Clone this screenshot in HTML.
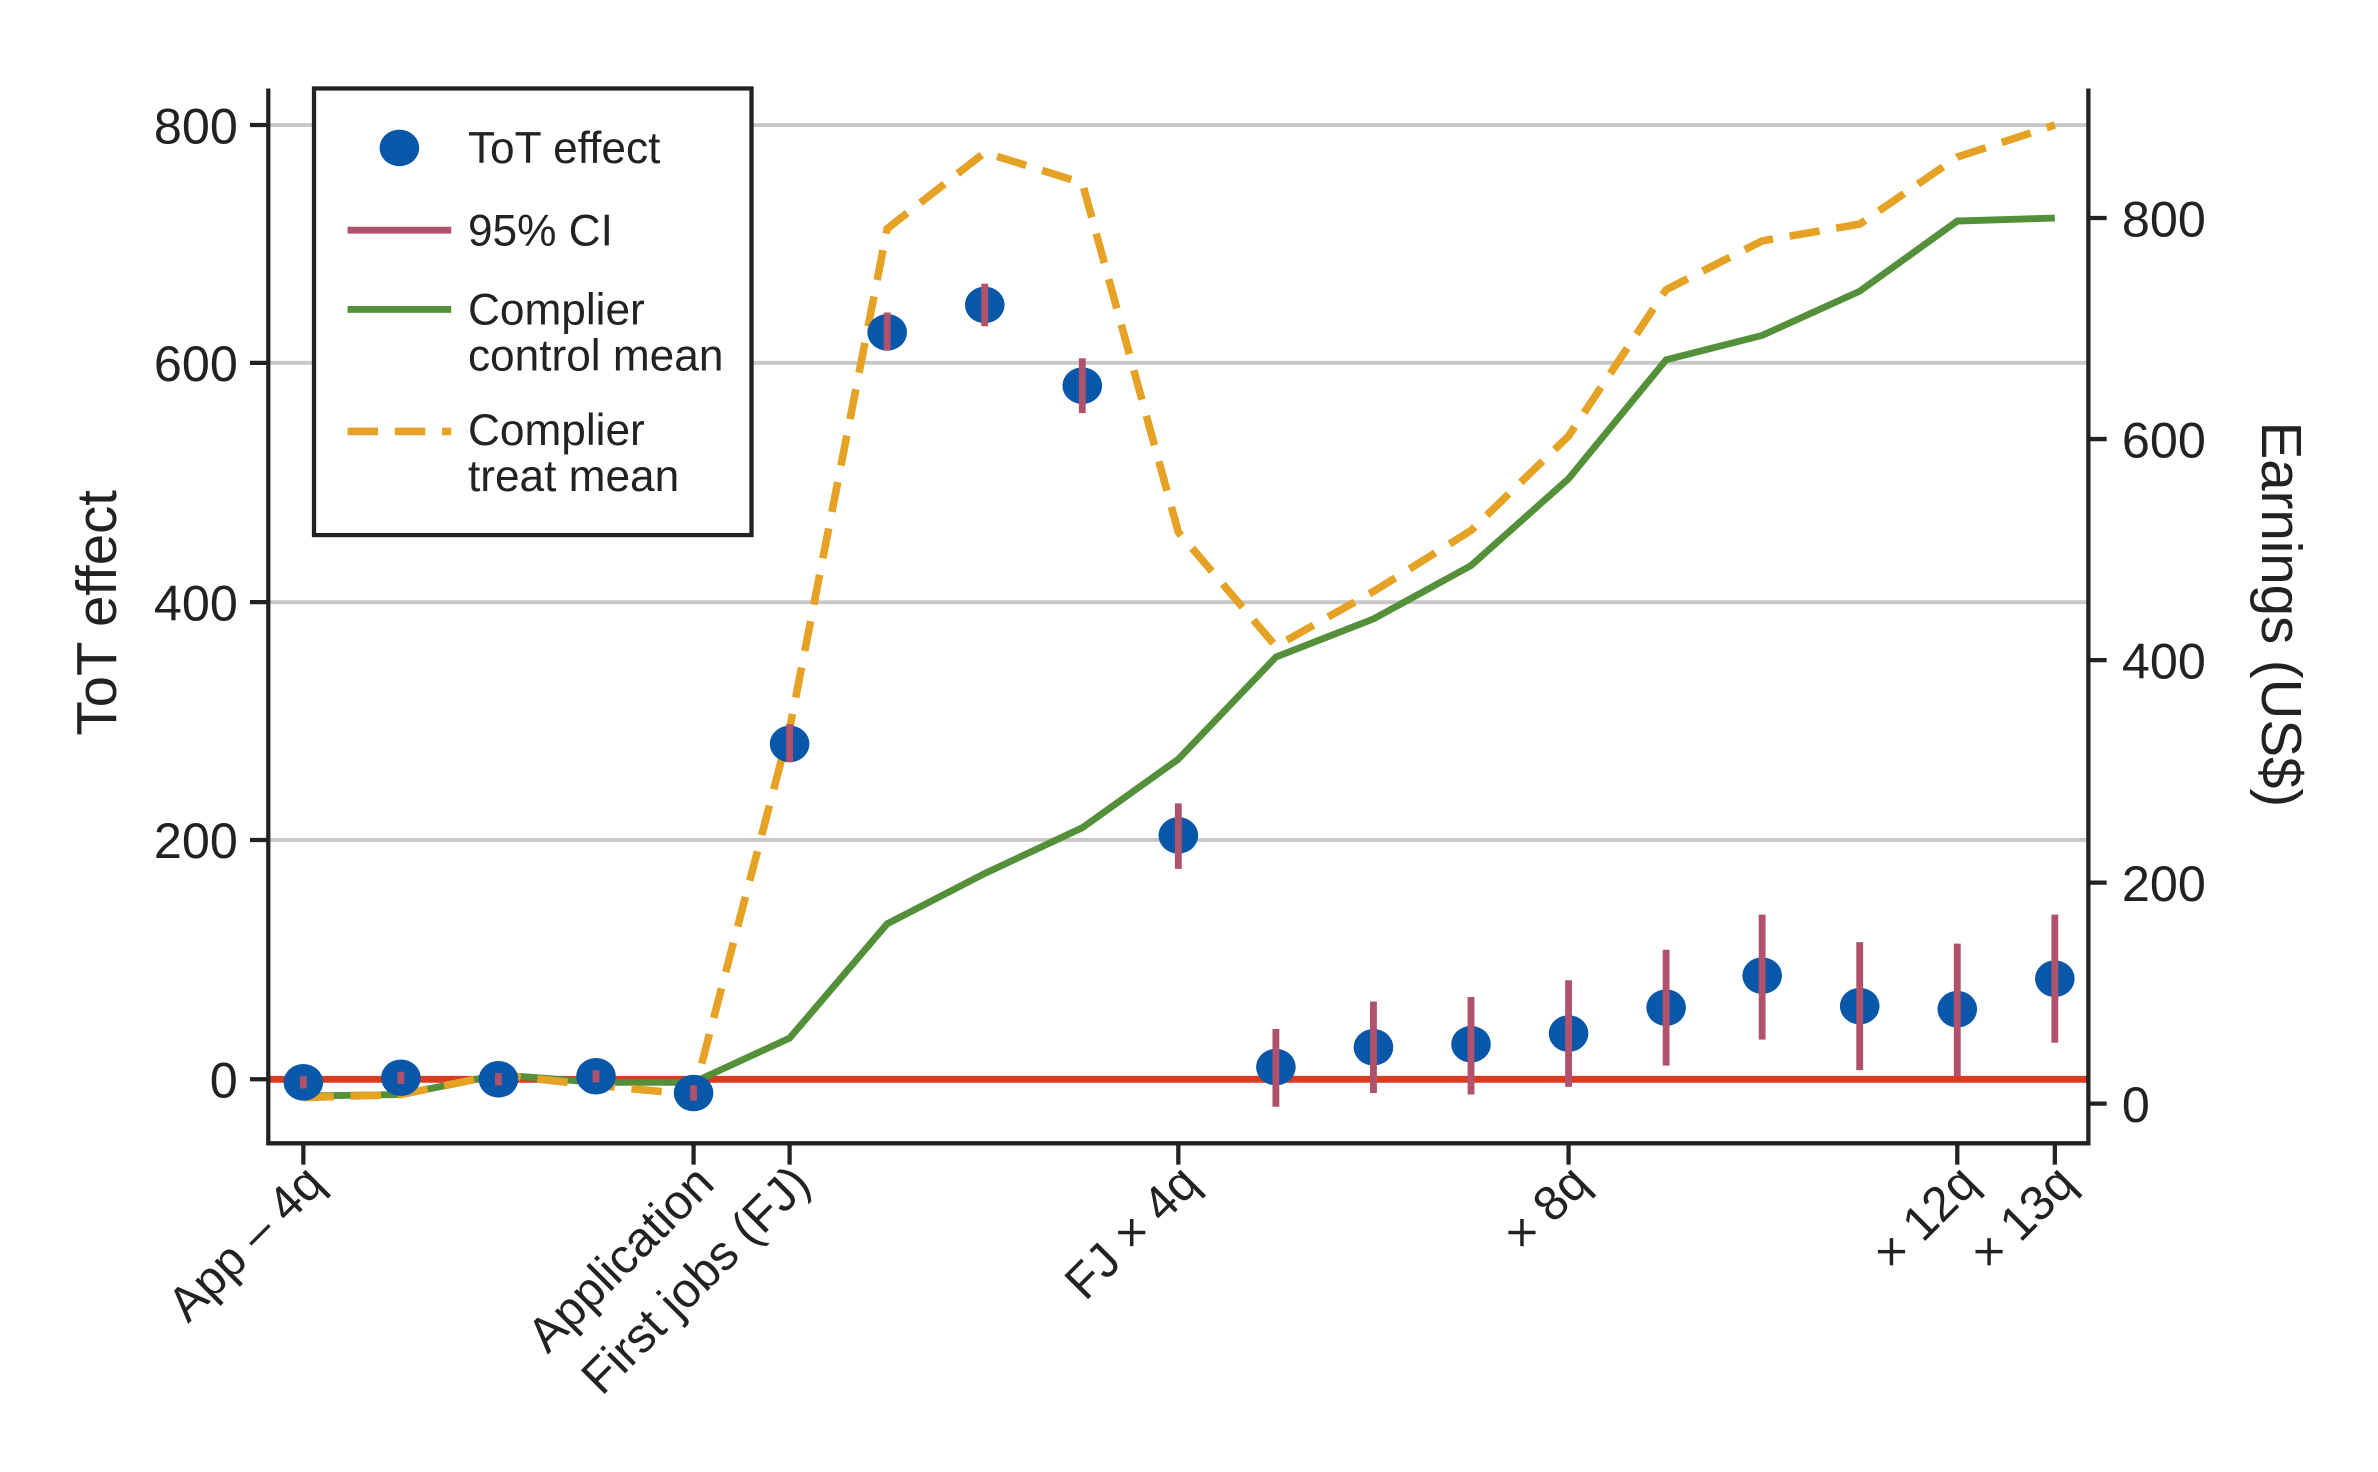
<!DOCTYPE html>
<html><head><meta charset="utf-8"><style>html,body{margin:0;padding:0;background:#fff}svg{display:block}</style></head>
<body>
<svg width="2378" height="1472" viewBox="0 0 1560 965.6" xmlns="http://www.w3.org/2000/svg" font-family="Liberation Sans, sans-serif">
<rect width="1560" height="966" fill="#fff"/>
<g stroke="#c8c8c8" stroke-width="2.5">
<line x1="176" x2="1370" y1="82" y2="82"/><line x1="176" x2="1370" y1="238" y2="238"/>
<line x1="176" x2="1370" y1="395" y2="395"/><line x1="176" x2="1370" y1="551" y2="551"/>
</g>
<line x1="176" x2="1370" y1="708" y2="708" stroke="#d93a22" stroke-width="4.5"/>
<polyline fill="none" stroke="#54903a" stroke-width="4.5" points="199,719 263,718 327,705 391,710 455,710 518,681 582,606 646,573 710,543 773,498 837,431 901,406 965,371 1029,314 1093,236 1156,220 1220,191 1284,145 1348,143"/>
<polyline fill="none" stroke="#e5a224" stroke-width="5" stroke-dasharray="20,11" points="199,720 263,718 327,705 391,712 455,718 518,478 582,150 646,100 710,120 773,349 837,424 901,388 965,348 1029,286 1093,190 1156,158 1220,147 1284,103 1348,82"/>
<g fill="#0857a8">
<ellipse cx="199" cy="710" rx="13" ry="12"/><ellipse cx="263" cy="707" rx="13" ry="12"/><ellipse cx="327" cy="708" rx="13" ry="12"/><ellipse cx="391" cy="706" rx="13" ry="12"/><ellipse cx="455" cy="717" rx="13" ry="12"/><ellipse cx="518" cy="488" rx="13" ry="12"/><ellipse cx="582" cy="218" rx="13" ry="12"/><ellipse cx="646" cy="200" rx="13" ry="12"/><ellipse cx="710" cy="253" rx="13" ry="12"/><ellipse cx="773" cy="548" rx="13" ry="12"/><ellipse cx="837" cy="700" rx="13" ry="12"/><ellipse cx="901" cy="687" rx="13" ry="12"/><ellipse cx="965" cy="685" rx="13" ry="12"/><ellipse cx="1029" cy="678" rx="13" ry="12"/><ellipse cx="1093" cy="661" rx="13" ry="12"/><ellipse cx="1156" cy="640" rx="13" ry="12"/><ellipse cx="1220" cy="660" rx="13" ry="12"/><ellipse cx="1284" cy="662" rx="13" ry="12"/><ellipse cx="1348" cy="642" rx="13" ry="12"/>
</g>
<g stroke="#b0526c" stroke-width="4.5">
<line x1="199" x2="199" y1="706" y2="714"/><line x1="263" x2="263" y1="703" y2="711"/><line x1="327" x2="327" y1="704" y2="712"/><line x1="391" x2="391" y1="702" y2="710"/><line x1="455" x2="455" y1="712" y2="722"/><line x1="518" x2="518" y1="475" y2="500"/><line x1="582" x2="582" y1="205" y2="230"/><line x1="646" x2="646" y1="186" y2="214"/><line x1="710" x2="710" y1="235" y2="271"/><line x1="773" x2="773" y1="527" y2="570"/><line x1="837" x2="837" y1="675" y2="726"/><line x1="901" x2="901" y1="657" y2="717"/><line x1="965" x2="965" y1="654" y2="718"/><line x1="1029" x2="1029" y1="643" y2="713"/><line x1="1093" x2="1093" y1="623" y2="699"/><line x1="1156" x2="1156" y1="600" y2="682"/><line x1="1220" x2="1220" y1="618" y2="702"/><line x1="1284" x2="1284" y1="619" y2="706"/><line x1="1348" x2="1348" y1="600" y2="684"/>
</g>
<g stroke="#222" stroke-width="2.8" fill="none">
<polyline points="176,58 176,750 1370,750 1370,58"/>
<line x1="164" x2="176" y1="82" y2="82"/><line x1="164" x2="176" y1="238" y2="238"/><line x1="164" x2="176" y1="395" y2="395"/><line x1="164" x2="176" y1="551" y2="551"/><line x1="164" x2="176" y1="708" y2="708"/>
<line x1="1370" x2="1382" y1="143" y2="143"/><line x1="1370" x2="1382" y1="288" y2="288"/><line x1="1370" x2="1382" y1="433" y2="433"/><line x1="1370" x2="1382" y1="579" y2="579"/><line x1="1370" x2="1382" y1="724" y2="724"/>
<line x1="199" x2="199" y1="750" y2="764"/><line x1="455" x2="455" y1="750" y2="764"/><line x1="518" x2="518" y1="750" y2="764"/><line x1="773" x2="773" y1="750" y2="764"/><line x1="1029" x2="1029" y1="750" y2="764"/><line x1="1284" x2="1284" y1="750" y2="764"/><line x1="1348" x2="1348" y1="750" y2="764"/>
</g>
<g font-size="33" fill="#222" text-anchor="end">
<text x="156" y="94">800</text><text x="156" y="250">600</text><text x="156" y="407">400</text><text x="156" y="563">200</text><text x="156" y="720">0</text>
</g>
<g font-size="33" fill="#222">
<text x="1392" y="155">800</text><text x="1392" y="300">600</text><text x="1392" y="445">400</text><text x="1392" y="591">200</text><text x="1392" y="736">0</text>
</g>
<text transform="translate(76,402) rotate(-90)" font-size="37" text-anchor="middle" fill="#222">ToT effect</text>
<text transform="translate(1484,403) rotate(90)" font-size="37" text-anchor="middle" fill="#222">Earnings (US$)</text>
<g font-size="32" fill="#222" text-anchor="end">
<text transform="translate(214,778) rotate(-45)">App – 4q</text>
<text transform="translate(470,778) rotate(-45)">Application</text>
<text transform="translate(533,778) rotate(-45)">First jobs (FJ)</text>
<text transform="translate(788,778) rotate(-45)">FJ × 4q</text>
<text transform="translate(1044,778) rotate(-45)">× 8q</text>
<text transform="translate(1299,778) rotate(-45)">× 12q</text>
<text transform="translate(1363,778) rotate(-45)">× 13q</text>
</g>
<rect x="206" y="58" width="287" height="293" fill="#fff" stroke="#222" stroke-width="2.8"/>
<ellipse cx="262" cy="97" rx="13" ry="12" fill="#0857a8"/>
<line x1="228" x2="296" y1="151" y2="151" stroke="#b0526c" stroke-width="4.5"/>
<line x1="228" x2="296" y1="203" y2="203" stroke="#54903a" stroke-width="4.5"/>
<line x1="228" x2="296" y1="283" y2="283" stroke="#e5a224" stroke-width="5" stroke-dasharray="20,11"/>
<g font-size="29" fill="#222">
<text x="307" y="107">ToT effect</text><text x="307" y="161">95% CI</text>
<text x="307" y="213">Complier</text><text x="307" y="243">control mean</text>
<text x="307" y="292">Complier</text><text x="307" y="322">treat mean</text>
</g>
</svg>
</body></html>
